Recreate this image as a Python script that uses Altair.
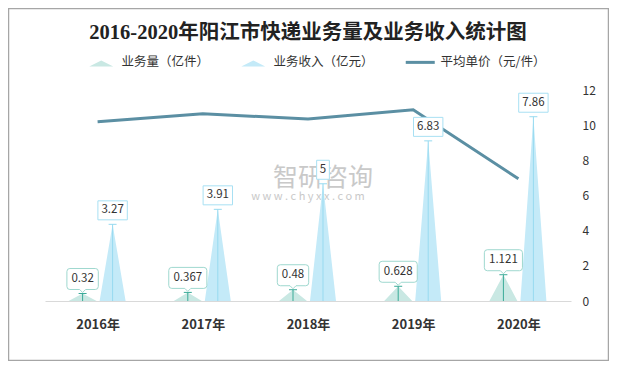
import altair as alt
import pandas as pd

# ---------------- data ----------------
years = [2016, 2017, 2018, 2019, 2020]
volume = [0.32, 0.367, 0.48, 0.628, 1.121]      # 业务量（亿件）
revenue = [3.27, 3.91, 5, 6.83, 7.86]           # 业务收入（亿元）
price = [10.2, 10.65, 10.35, 10.88, 6.95]       # 平均单价（元/件）
series_names = ["业务量（亿件）", "业务收入（亿元）", "平均单价（元/件）"]
title_text = "2016-2020年阳江市快递业务量及业务收入统计图"
watermark_cn = "智研咨询"
watermark_url = "w w w . c h y x x . c o m"

bars = pd.DataFrame({
    "year": years * 2,
    "series": ["vol"] * len(years) + ["rev"] * len(years),
    "value": volume + revenue,
    "lbl": [str(v) for v in volume + revenue],
})
line_df = pd.DataFrame({"year": years, "price": price})

FONT = "Noto Sans CJK SC"
PX_PER_YEAR = 105.2

x_scale = alt.Scale(domain=[2015.5, 2020.5], nice=False, zero=False)
y_bar = alt.Scale(domain=[0, 9], nice=False, zero=True)

x_axis = alt.Axis(values=years, labelExpr="datum.label + '年'", format="d", title=None,
                  ticks=False, tickSize=0, grid=False, domainColor="#d9d9d9",
                  labelFontWeight="bold", labelFontSize=13, labelColor="#333333",
                  labelPadding=17, labelFont=FONT)


def series_layers(key, off_px, hw_px, fill, stem, box_stroke, path_expr, text_dy):
    off = off_px / PX_PER_YEAR
    hw = hw_px / PX_PER_YEAR
    src = alt.Chart(bars).transform_filter(alt.datum.series == key).transform_calculate(
        cx=f"datum.year + ({off})")
    X = alt.X("cx:Q", scale=x_scale, axis=x_axis)
    Y = alt.Y("value:Q", scale=y_bar, axis=None)
    tri = (src.transform_calculate(k="[-1, 0, 1]")
           .transform_flatten(["k"])
           .transform_calculate(tx=f"datum.cx + datum.k * {hw}",
                                ty="datum.k == 0 ? datum.value : 0")
           .mark_area(color=fill, opacity=1)
           .encode(x=alt.X("tx:Q", scale=x_scale, axis=x_axis),
                   y=alt.Y("ty:Q", scale=y_bar, axis=None),
                   detail="year:N"))
    stem_rule = src.mark_rule(color=stem, strokeWidth=1).encode(x=X, y=Y, y2=alt.datum(0))
    cap = src.mark_point(shape="stroke", size=64, color=stem, strokeWidth=1,
                         filled=False, opacity=1).encode(x=X, y=Y)
    box = (src.transform_calculate(
               nd="indexof(datum.lbl, '.') >= 0 ? 1 : 0")
           .transform_calculate(
               hw=f"((length(datum.lbl) - datum.nd) * 6.7 + datum.nd * 3.3 + {'8' if key == 'vol' else '6'}) / 2")
           .transform_calculate(path=path_expr)
           .mark_point(filled=True, fill="white", stroke=box_stroke, strokeWidth=1,
                       size=4, opacity=1)
           .encode(x=X, y=Y, shape=alt.Shape("path:N", scale=None)))
    txt = src.mark_text(dy=text_dy, fontSize=11.5, color="#333333", font=FONT).encode(
        x=X, y=Y, text="lbl:N")
    return [tri, stem_rule, cap, box, txt]


vol_path = ("'M' + (-datum.hw + 3) + ',-25L' + (datum.hw - 3) + ',-25Q' + datum.hw + ',-25,' + datum.hw"
            " + ',-22L' + datum.hw + ',-7Q' + datum.hw + ',-4,' + (datum.hw - 3)"
            " + ',-4L3,-4L0,-1L-3,-4L' + (-datum.hw + 3) + ',-4Q' + (-datum.hw) + ',-4,' + (-datum.hw)"
            " + ',-7L' + (-datum.hw) + ',-22Q' + (-datum.hw) + ',-25,' + (-datum.hw + 3) + ',-25Z'")
rev_path = ("'M' + (-datum.hw) + ',-23.5L' + datum.hw + ',-23.5L' + datum.hw + ',-4.5L'"
            " + (-datum.hw) + ',-4.5Z'")

vol_layers = series_layers("vol", -15, 14, "#c9e8e3", "#3aab98", "#9fd8cf", vol_path, -14.5)
rev_layers = series_layers("rev", 15, 13, "#c4eaf8", "#97daf0", "#a8e0f3", rev_path, -14)

spikes_layer = alt.layer(vol_layers[0], rev_layers[0], vol_layers[1], rev_layers[1],
                         vol_layers[2], rev_layers[2])
labels_layer = alt.layer(vol_layers[3], rev_layers[3], vol_layers[4], rev_layers[4])

line = alt.Chart(line_df).mark_line(color="#5b8fa3", strokeWidth=3).encode(
    x=alt.X("year:Q", scale=x_scale, axis=x_axis),
    y=alt.Y("price:Q", scale=alt.Scale(domain=[0, 12], nice=False),
            axis=alt.Axis(orient="right", values=[0, 2, 4, 6, 8, 10, 12], title=None,
                          ticks=False, tickSize=0, domain=False, grid=False,
                          labelPadding=11, labelFontSize=12, labelColor="#333333",
                          labelFont=FONT, labelAlign="left")))

legend_df = pd.DataFrame({"name": series_names})
legend_paths = ["M-12,4L0,-2L12,4Z", "M-12,4L0,-2L12,4Z", "M-14.5,-1.5L14.5,-1.5L14.5,1.5L-14.5,1.5Z"]
legend_colors = ["#c9e8e3", "#c4eaf8", "#5b8fa3"]
leg = alt.Legend(title=None, orient="none", legendX=50, legendY=-34, direction="horizontal",
                 columns=3, symbolSize=4, labelOffset=14, columnPadding=31, labelFont=FONT,
                 labelFontSize=12.5, labelColor="#333333", symbolStrokeWidth=0, symbolOpacity=1,
                 padding=0)
legend_layer = alt.Chart(legend_df).mark_point(filled=True, size=0).encode(
    color=alt.Color("name:N", scale=alt.Scale(domain=series_names, range=legend_colors), legend=leg),
    shape=alt.Shape("name:N", scale=alt.Scale(domain=series_names, range=legend_paths), legend=leg),
)

one = pd.DataFrame({"a": [0]})
wm1 = alt.Chart(one).mark_text(text=watermark_cn, fontSize=25, color="#c4c4c4", font=FONT,
                               opacity=0.9).encode(x=alt.value(278), y=alt.value(88))
wm2 = alt.Chart(one).mark_text(text=watermark_url, fontSize=11, color="#c4c4c4", font=FONT,
                               opacity=0.9).encode(x=alt.value(263), y=alt.value(107))
border = alt.Chart(one).mark_rect(filled=False, stroke="#a6a6a6", strokeWidth=1.5).encode(
    x=alt.value(-36.5), x2=alt.value(563.5), y=alt.value(-81.5), y2=alt.value(270.5))

chart = (alt.layer(border, wm1, wm2, spikes_layer, line, labels_layer, legend_layer)
         .resolve_scale(y="independent")
         .properties(width=526, height=211,
                     padding={"left": 37, "top": 82, "right": 38, "bottom": 60},
                     autosize=alt.AutoSizeParams(type="none"),
                     title=alt.TitleParams(title_text, anchor="middle", fontSize=20.5,
                                           font="Liberation Serif, Noto Sans CJK SC",
                                           fontWeight="bold", color="#222222", offset=-36))
         .configure(background="white")
         .configure_view(stroke=None))

chart.save("out.html", embed_options={"renderer": "svg", "actions": False})
